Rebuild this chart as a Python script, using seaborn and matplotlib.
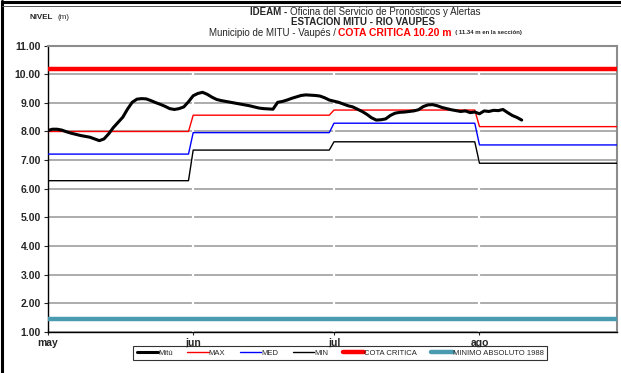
import numpy as np
import pandas as pd
import matplotlib
matplotlib.use("Agg")
import matplotlib.pyplot as plt
import seaborn as sns

# Monthly reference levels (m) for the Mitú station
month_labels = ["may", "jun", "jul", "ago"]
month_days = [31, 30, 31, 31]
max_level = [8.00, 8.57, 8.75, 8.17]
med_level = [7.21, 7.96, 8.29, 7.53]
min_level = [6.28, 7.35, 7.64, 6.89]
cota_critica = 10.20
minimo_absoluto = 1.45

# Daily observed level at Mitú (m), from 1 May
mitu = [
    8.03, 8.08, 8.08, 8.05, 7.99, 7.94, 7.90, 7.86, 7.83, 7.80,
    7.74, 7.68, 7.74, 7.92, 8.14, 8.32, 8.50, 8.78, 9.02, 9.13,
    9.15, 9.14, 9.08, 9.01, 8.95, 8.88, 8.80, 8.77, 8.80, 8.86,
    9.04, 9.25, 9.33, 9.37, 9.30, 9.20, 9.12, 9.08, 9.05, 9.02,
    8.99, 8.96, 8.93, 8.90, 8.86, 8.82, 8.80, 8.79, 8.78, 9.02,
    9.05, 9.10, 9.16, 9.21, 9.26, 9.28, 9.27, 9.26, 9.24, 9.18,
    9.10, 9.06, 9.02, 8.96, 8.90, 8.86, 8.78, 8.70, 8.60, 8.48,
    8.40, 8.41, 8.44, 8.56, 8.64, 8.67, 8.68, 8.70, 8.72, 8.76,
    8.87, 8.93, 8.94, 8.90, 8.84, 8.80, 8.76, 8.73, 8.70, 8.72,
    8.66, 8.68, 8.62, 8.72, 8.70, 8.74, 8.73, 8.77, 8.66, 8.56,
    8.49, 8.40,
]

y_ticks = np.arange(1, 12, 1)

sns.set_style("white")
plt.rcParams["font.family"] = ["Liberation Sans", "DejaVu Sans"]

month_start = np.concatenate([[0], np.cumsum(month_days)[:-1]])
n_days = int(np.sum(month_days))
days = np.arange(n_days)

ref = pd.DataFrame({
    "dia": days,
    "MAX": np.repeat(max_level, month_days),
    "MED": np.repeat(med_level, month_days),
    "MIN": np.repeat(min_level, month_days),
    "COTA CRITICA": np.full(n_days, cota_critica),
    "MINIMO ABSOLUTO 1988": np.full(n_days, minimo_absoluto),
})
obs = pd.DataFrame({"dia": np.arange(len(mitu)), "nivel": mitu})

fig = plt.figure(figsize=(6.21, 3.73), dpi=100)
ax = fig.add_axes([0.0768, 0.1107, 0.9175, 0.7668])

ax.set_axisbelow(True)
ax.yaxis.grid(True, color="#a6a6a6", linewidth=1.3)
ax.xaxis.grid(False)
for m in month_start[1:]:
    ax.axvline(m, color="white", linewidth=1.6, zorder=1)

sns.lineplot(data=obs, x="dia", y="nivel", ax=ax, color="black",
             linewidth=2.2, label="Mitú", zorder=5)
sns.lineplot(data=ref, x="dia", y="MAX", ax=ax, color="#ff0000",
             linewidth=1.0, label="MAX", zorder=3)
sns.lineplot(data=ref, x="dia", y="MED", ax=ax, color="#0000ff",
             linewidth=1.0, label="MED", zorder=3)
sns.lineplot(data=ref, x="dia", y="MIN", ax=ax, color="black",
             linewidth=1.0, label="MIN", zorder=3)
sns.lineplot(data=ref, x="dia", y="COTA CRITICA", ax=ax, color="#ff0000",
             linewidth=3.2, label="COTA CRITICA", zorder=4)
sns.lineplot(data=ref, x="dia", y="MINIMO ABSOLUTO 1988", ax=ax,
             color="#4a9bb0", linewidth=3.2, label="MINIMO ABSOLUTO 1988",
             zorder=4)

ax.set_xlim(0, 121.4)
ax.set_ylim(1, 11)
ax.set_yticks(y_ticks)
ax.set_yticklabels([f"{v:.2f}" for v in y_ticks], fontsize=7.5,
                   fontweight="bold")
ax.set_xticks(month_start)
ax.set_xticklabels(month_labels, fontsize=7.5, fontweight="bold")
ax.tick_params(axis="y", direction="out", length=3, width=0.8, pad=2,
               left=True)
ax.tick_params(axis="x", direction="inout", length=5, width=0.8, pad=2,
               bottom=True)
ax.set_xlabel("")
ax.set_ylabel("")

for side in ("left", "bottom"):
    ax.spines[side].set_color("black")
    ax.spines[side].set_linewidth(1.0)
for side in ("top", "right"):
    ax.spines[side].set_color("#8c8c8c")
    ax.spines[side].set_linewidth(1.5)

handles, labels = ax.get_legend_handles_labels()
ax.get_legend().remove()
leg = fig.legend(handles, labels, loc="center", ncol=6,
                 bbox_to_anchor=(0.548, 0.054), fontsize=5.5,
                 frameon=True, fancybox=False, edgecolor="black",
                 handlelength=2.8, handletextpad=0.0, columnspacing=1.9,
                 borderpad=0.45)
leg.get_frame().set_linewidth(0.8)

# Title lines built from differently styled pieces
fig.canvas.draw()
renderer = fig.canvas.get_renderer()


def styled_line(pieces, xc, y):
    texts = []
    for s, kw in pieces:
        t = fig.text(0, y, s, va="center", ha="left", **kw)
        texts.append(t)
    widths = [t.get_window_extent(renderer).width / fig.bbox.width
              for t in texts]
    x = xc - sum(widths) / 2
    for t, w in zip(texts, widths):
        t.set_x(x)
        x += w


styled_line([("IDEAM - ", dict(fontsize=7, fontweight="bold")),
             ("Oficina del Servicio de Pronósticos y Alertas",
              dict(fontsize=7))], 0.588, 0.968)
styled_line([("ESTACION MITU - RIO VAUPES",
              dict(fontsize=7, fontweight="bold"))], 0.584, 0.941)
styled_line([("Municipio de MITU - Vaupés / ", dict(fontsize=7)),
             ("COTA CRITICA 10.20 m",
              dict(fontsize=7.5, fontweight="bold", color="#ff0000")),
             ("  ( 11.34 m en la sección)",
              dict(fontsize=4.3, fontweight="bold"))], 0.588, 0.912)

fig.text(0.048, 0.953, "NIVEL", fontsize=5.8, fontweight="bold",
         va="center", ha="left")
fig.text(0.092, 0.953, "(m)", fontsize=5.8, va="center", ha="left")

# Outer frame of the sheet
fig.add_artist(plt.Line2D([0.004, 0.004], [0, 0.997], color="black",
                          linewidth=2.2, transform=fig.transFigure))
fig.add_artist(plt.Line2D([0.004, 1], [0.995, 0.995], color="black",
                          linewidth=2.2, transform=fig.transFigure))
fig.add_artist(plt.Line2D([0.004, 1], [0.984, 0.984], color="#555555",
                          linewidth=0.7, transform=fig.transFigure))

fig.savefig("out.png", dpi=100)
